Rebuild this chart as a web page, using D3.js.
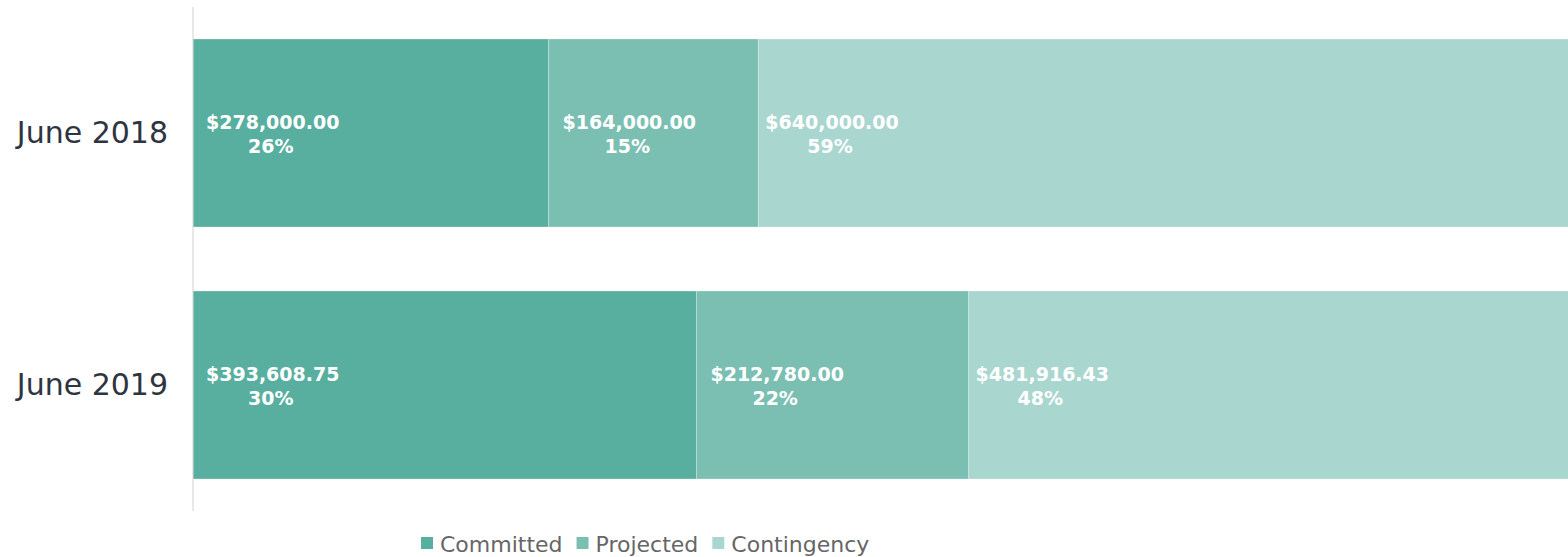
<!DOCTYPE html>
<html>
<head>
<meta charset="utf-8">
<script src="https://cdn.jsdelivr.net/npm/d3@7"></script>
<style>
  body { margin: 0; background: #fff; }
  svg { display: block; font-family: "DejaVu Sans", sans-serif; }
</style>
</head>
<body>
<div id="chart"></div>
<script>
const periods = ["June 2018", "June 2019"];
const series = ["Committed", "Projected", "Contingency"];
const committed = [278000.0, 393608.75];
const projected = [164000.0, 212780.0];
const contingency = [640000.0, 481916.43];
const percentLabels = [
  ["26%", "15%", "59%"],
  ["30%", "22%", "48%"],
];
// visible part of the dollar axis; bars run past the right edge
const xMax = 1075000;

const width = 1568;
const height = 557;
const margin = { top: 7, right: 0, bottom: 46, left: 193 };

const colors = ["#59af9f", "#7bbfb3", "#aad6d0"];
// label offsets from each segment's left edge
const labelDx = [13, 14, 7];

const rows = periods.map((p, i) => ({
  period: p,
  Committed: committed[i],
  Projected: projected[i],
  Contingency: contingency[i],
  pct: percentLabels[i],
}));

const stacked = d3.stack().keys(series)(rows);

const x = d3
  .scaleLinear()
  .domain([0, xMax])
  .range([margin.left, width - margin.right]);

const y = d3
  .scaleBand()
  .domain(periods)
  .range([margin.top, height - margin.bottom])
  .paddingInner(0.254)
  .paddingOuter(0.127);

const color = d3.scaleOrdinal().domain(series).range(colors);

const svg = d3
  .select("#chart")
  .append("svg")
  .attr("width", width)
  .attr("height", height);

svg
  .append("clipPath")
  .attr("id", "plot-clip")
  .append("rect")
  .attr("x", margin.left)
  .attr("y", 0)
  .attr("width", width - margin.left - margin.right)
  .attr("height", height);

const layer = svg
  .append("g")
  .attr("clip-path", "url(#plot-clip)")
  .selectAll("g")
  .data(stacked)
  .join("g")
  .attr("fill", (d) => color(d.key));

layer
  .selectAll("rect")
  .data((d) => d)
  .join("rect")
  .attr("x", (d) => x(d[0]))
  .attr("y", (d) => y(d.data.period))
  .attr("width", (d) => x(d[1]) - x(d[0]))
  .attr("height", y.bandwidth())
  .attr("stroke", "#fff")
  .attr("stroke-opacity", 0.25)
  .attr("stroke-width", 1);

// value + percent labels
const fmt = d3.format("$,.2f");
stacked.forEach((s, si) => {
  s.forEach((d) => {
    const cy = y(d.data.period) + y.bandwidth() / 2;
    const g = svg
      .append("g")
      .attr("transform", `translate(${x(d[0]) + labelDx[si]},${cy})`)
      .attr("fill", "#fff")
      .attr("font-weight", 700)
      .attr("font-size", 19);
    const t = g.append("text").attr("y", -4).text(fmt(d.data[s.key]));
    const w = t.node().getComputedTextLength();
    g.append("text")
      .attr("x", w / 2 - 2)
      .attr("y", 20)
      .attr("text-anchor", "middle")
      .text(d.data.pct[si]);
  });
});

// y axis
const yAxis = svg
  .append("g")
  .attr("transform", `translate(${margin.left},0)`)
  .call(d3.axisLeft(y).tickSize(0).tickPadding(25));
yAxis
  .select(".domain")
  .attr("stroke", "#d0d0d0")
  .attr("d", `M0,${margin.top}V${height - margin.bottom}`);
yAxis
  .selectAll(".tick text")
  .attr("font-family", "DejaVu Sans, sans-serif")
  .attr("font-size", 30)
  .attr("fill", "#2e3440");

// legend
const legend = svg.append("g").attr("transform", "translate(421,544)");
let lx = 0;
series.forEach((k) => {
  const item = legend.append("g").attr("transform", `translate(${lx},0)`);
  item
    .append("rect")
    .attr("y", -7)
    .attr("width", 12)
    .attr("height", 12)
    .attr("fill", color(k));
  const t = item
    .append("text")
    .attr("x", 19)
    .attr("dy", "0.35em")
    .attr("font-size", 22)
    .attr("fill", "#666")
    .text(k);
  lx += 19 + t.node().getComputedTextLength() + 14;
});
</script>
</body>
</html>
